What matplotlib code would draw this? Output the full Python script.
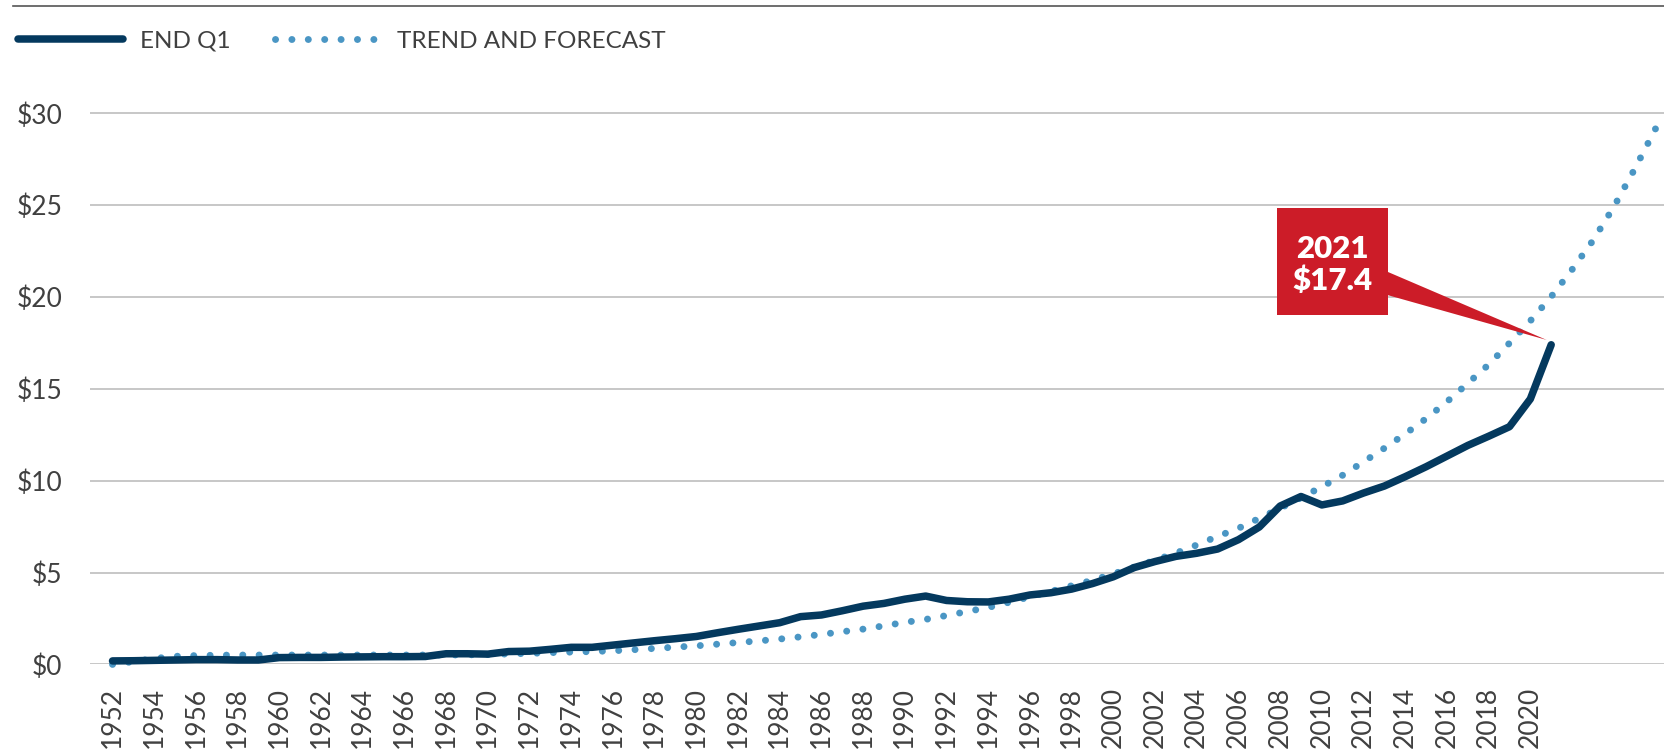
import matplotlib
matplotlib.use("Agg")
import numpy as np
import matplotlib.pyplot as plt
from matplotlib.patches import Rectangle, Polygon
from matplotlib.transforms import IdentityTransform

plt.rcParams['font.family'] = ['Lato', 'DejaVu Sans']

# End-of-Q1 values, $ trillions
years = list(range(1952, 2022))
end_q1 = [
    0.19, 0.20, 0.22, 0.24, 0.26, 0.26, 0.24, 0.24, 0.37, 0.38,
    0.38, 0.40, 0.41, 0.42, 0.42, 0.43, 0.58, 0.58, 0.56, 0.70,
    0.72, 0.82, 0.93, 0.93, 1.05, 1.17, 1.29, 1.40, 1.52, 1.72,
    1.91, 2.09, 2.27, 2.60, 2.69, 2.92, 3.17, 3.32, 3.55, 3.72,
    3.48, 3.41, 3.40, 3.55, 3.78, 3.90, 4.10, 4.40, 4.77, 5.27,
    5.60, 5.88, 6.05, 6.28, 6.79, 7.48, 8.62, 9.14, 8.68, 8.90,
    9.33, 9.71, 10.22, 10.76, 11.34, 11.92, 12.42, 12.94, 14.45, 17.4,
]

# Trend line, extended as a forecast to 2026
trend_years = list(range(1952, 2027))
trend = [
    0.00, 0.15, 0.32, 0.44, 0.48, 0.50, 0.51, 0.51, 0.51, 0.51,
    0.51, 0.51, 0.51, 0.51, 0.51, 0.51, 0.51, 0.52, 0.54, 0.57,
    0.60, 0.64, 0.67, 0.70, 0.74, 0.80, 0.87, 0.94, 1.01, 1.10,
    1.19, 1.28, 1.38, 1.50, 1.63, 1.78, 1.92, 2.10, 2.29, 2.45,
    2.66, 2.88, 3.10, 3.38, 3.68, 3.97, 4.28, 4.58, 4.93, 5.30,
    5.67, 6.06, 6.50, 6.97, 7.41, 7.95, 8.50, 9.07, 9.67, 10.30,
    11.03, 11.77, 12.55, 13.38, 14.30, 15.30, 16.32, 17.49, 18.70, 20.02,
    21.49, 23.07, 24.90, 26.96, 29.15,
]

y_ticks = [0, 5, 10, 15, 20, 25, 30]
y_tick_labels = ['$0', '$5', '$10', '$15', '$20', '$25', '$30']
x_ticks = list(range(1952, 2021, 2))

NAVY = '#04395E'
BLUE = '#4A96C4'
RED = '#CC1C28'
TEXT = '#404040'
GRID = '#BDBDBD'

W, H = 1664, 754
fig = plt.figure(figsize=(W / 100, H / 100), dpi=100)
ax = fig.add_axes([90 / W, 89.6 / H, 1 - 90 / W, 30.5 * 18.37 / H])

TREND_LW = 5.0
DOT_ON, DOT_OFF = 0.01, 2.35
trend_line, = ax.plot(trend_years, trend, color=BLUE, lw=TREND_LW,
                      linestyle=(0, (DOT_ON, DOT_OFF)), dash_capstyle='round',
                      clip_on=False, zorder=3, label='TREND AND FORECAST')
main_line, = ax.plot(years, end_q1, color=NAVY, lw=5.4,
                     solid_capstyle='round', solid_joinstyle='round',
                     clip_on=False, zorder=4, label='END Q1')

ax.set_xlim(1950.92, 2026.41)
ax.set_ylim(0, 30.5)
ax.set_yticks(y_ticks)
ax.set_yticklabels(y_tick_labels)
ax.set_xticks(x_ticks)
ax.set_xticklabels([str(y) for y in x_ticks], rotation=90)
ax.tick_params(axis='y', length=0, pad=20, labelsize=19, labelcolor=TEXT)
ax.tick_params(axis='x', length=0, pad=16, labelsize=19, labelcolor=TEXT)
ax.grid(axis='y', color=GRID, lw=1.2)
ax.set_axisbelow(True)
for s in ax.spines.values():
    s.set_visible(False)

# Top rule
fig.add_artist(plt.Line2D([13 / W, 1.0], [1 - 6 / H, 1 - 6 / H],
                          transform=fig.transFigure, color='#555555', lw=1.2))

# Legend
fig.legend(handles=[main_line, trend_line], loc='center left',
           bbox_to_anchor=(18 / W, 1 - 41 / H), ncol=2, frameon=False,
           fontsize=17.5, labelcolor=TEXT, handlelength=4.3,
           handletextpad=0.7, columnspacing=1.85, borderpad=0,
           borderaxespad=0)

fig.canvas.draw()

# Shift the dot pattern so a dot sits on both ends of the trend line
pts = ax.transData.transform(np.column_stack([trend_years, trend]))
path_len = np.hypot(*np.diff(pts, axis=0).T).sum()
lw_px = TREND_LW * fig.dpi / 72
period = (DOT_ON + DOT_OFF) * lw_px
n = round(path_len / period)
scale = path_len / (n * period)
trend_line.set_linestyle((0, (DOT_ON * scale, DOT_OFF * scale)))

# Callout for the latest value
px, py = ax.transData.transform((years[-1], end_q1[-1]))
ident = IdentityTransform()
box = Rectangle((px - 274.2, py + 29.8), 111.0, 106.7, transform=ident,
                facecolor=RED, edgecolor='none', zorder=6)
pointer = Polygon([(px - 164, py + 73.1), (px - 164, py + 49.8),
                   (px - 4.5, py + 4.8)], closed=True, transform=ident,
                  facecolor=RED, edgecolor='none', zorder=6)
fig.add_artist(pointer)
fig.add_artist(box)
fig.text(px - 218.7, py + 79.8, f"{years[-1]}\n${end_q1[-1]:.1f}",
         transform=ident, ha='center', va='center', color='white',
         fontsize=22.5, fontweight='heavy', linespacing=1.15, zorder=7)

fig.savefig('out.png', dpi=100, facecolor='white')
